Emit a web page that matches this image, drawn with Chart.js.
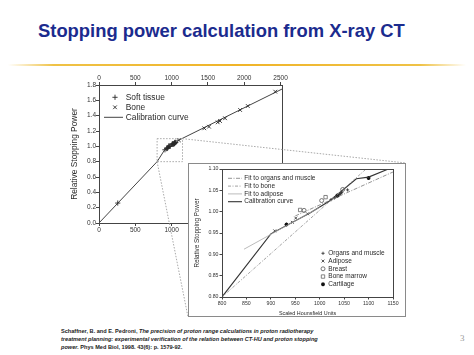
<!DOCTYPE html>
<html><head><meta charset="utf-8">
<script src="https://cdn.jsdelivr.net/npm/chart.js@4.4.1/dist/chart.umd.min.js"></script>
<style>
html,body{margin:0;padding:0;background:#fff;}
#page{position:relative;width:474px;height:355px;overflow:hidden;font-family:"Liberation Sans",Arial,sans-serif;background:#fff;}
#title{position:absolute;left:38px;top:21px;font-weight:bold;font-size:18.4px;line-height:20px;color:#1b2b8e;white-space:nowrap;}
#rule{position:absolute;left:8px;top:64px;width:458px;height:2px;background:linear-gradient(to right,rgba(240,190,60,0),#efc246 10%,#f0b428 50%,#efc246 90%,rgba(240,190,60,0));}
#mainBox{position:absolute;left:0;top:60px;width:474px;height:265px;}
#insetBox{position:absolute;left:188px;top:163px;width:218px;height:154px;background:#fff;}
#cite{position:absolute;left:61px;top:326.5px;font-size:5.6px;line-height:8px;font-weight:bold;color:#222;white-space:nowrap;}
#num{position:absolute;left:460px;top:333px;font-family:"Liberation Serif",serif;font-size:9px;color:#999;}
</style></head>
<body>
<div id="page">
  <div id="title">Stopping power calculation from X-ray CT</div>
  <div id="rule"></div>
  <div id="mainBox"><canvas id="main" width="474" height="265"></canvas></div>
  <div id="insetBox"><canvas id="inset" width="218" height="154"></canvas></div>
  <div id="cite">Schaffner, B. and E. Pedroni, <i>The precision of proton range calculations in proton radiotherapy</i><br><i>treatment planning: experimental verification of the relation between CT-HU and proton stopping</i><br><i>power.</i> Phys Med Biol, 1998. 43(6): p. 1579-92.</div>
  <div id="num">3</div>
</div>
<script>
// ---------- data ----------
const mainXTicks = [0, 500, 1000, 1500, 2000, 2500];
const mainYTicks = [0.0, 0.2, 0.4, 0.6, 0.8, 1.0, 1.2, 1.4, 1.6, 1.8];
const insetXTicks = [800, 850, 900, 950, 1000, 1050, 1100, 1150];
const insetYTicks = [0.80, 0.85, 0.90, 0.95, 1.00, 1.05, 1.10];
const insetXRange = [800, 1150];
const insetYRange = [0.80, 1.10];

const softX = [258, 908, 932, 944, 951, 960, 968, 980, 1004, 1012, 1023, 1030, 1033, 1036, 1039, 1042, 1045, 1047, 1057];
const softY = [0.26, 0.955, 0.970, 0.975, 0.985, 1.004, 1.003, 0.999, 1.026, 1.034, 1.028, 1.032, 1.035, 1.037, 1.040, 1.042, 1.045, 1.052, 1.051];
const boneX = [1100, 1450, 1515, 1635, 1667, 1736, 1943, 2049, 2427];
const boneY = [1.079, 1.235, 1.256, 1.313, 1.330, 1.366, 1.474, 1.526, 1.713];
const calibX = [0, 800, 900, 980, 1020, 1075, 1100, 2520];
const calibY = [0.0, 0.80, 0.948, 0.997, 1.025, 1.077, 1.081, 1.747];

const orgFitX = [950, 1150];
const orgFitY = [0.990, 1.093];
const boneFitX = [800, 1095];
const boneFitY = [0.800, 1.100];
const adipFitX = [845, 1000];
const adipFitY = [0.912, 1.010];

const organsX = [1023, 1030, 1033, 1035, 1037, 1039, 1041, 1043, 1045, 1057];
const organsY = [1.028, 1.032, 1.035, 1.037, 1.036, 1.040, 1.041, 1.043, 1.045, 1.051];
const adiposeX = [908, 944, 951, 975];
const adiposeY = [0.955, 0.975, 0.985, 0.995];
const breastX = [968, 1004, 1047];
const breastY = [1.003, 1.026, 1.052];
const marrowX = [960, 1012];
const marrowY = [1.004, 1.034];
const cartX = [932, 1036, 1100];
const cartY = [0.970, 1.038, 1.079];

// ---------- helpers ----------
const INK = '#2a2a2a';
const FONT = "'Liberation Sans', Arial, sans-serif";
Chart.defaults.font.family = FONT;
Chart.defaults.color = '#333';

function pts(xs, ys) { return xs.map((x, i) => ({x: x, y: ys[i]})); }
function fixedTicks(values) { return s => { s.ticks = values.map(v => ({value: v})); }; }
function fixW(w) { return s => { s.width = w; }; }
function fixH(h) { return s => { s.height = h; }; }

function drawMark(ctx, style, x, y, r) {
  if (Chart.helpers && Chart.helpers.drawPoint) {
    Chart.helpers.drawPoint(ctx, {pointStyle: style, radius: r, rotation: 0, borderWidth: ctx.lineWidth}, x, y);
    return;
  }
  ctx.beginPath();
  const d = r * Math.SQRT1_2;
  if (style === 'cross' || style === 'star') { ctx.moveTo(x - r, y); ctx.lineTo(x + r, y); ctx.moveTo(x, y - r); ctx.lineTo(x, y + r); }
  if (style === 'crossRot' || style === 'star') { ctx.moveTo(x - d, y - d); ctx.lineTo(x + d, y + d); ctx.moveTo(x - d, y + d); ctx.lineTo(x + d, y - d); }
  if (style === 'circle') ctx.arc(x, y, r, 0, Math.PI * 2);
  if (style === 'rect') ctx.rect(x - d, y - d, 2 * d, 2 * d);
  ctx.stroke();
}

function insideLegend(groups) {
  return {
    id: 'insideLegend',
    afterDraw(chart) {
      const ctx = chart.ctx, ca = chart.chartArea;
      ctx.save();
      groups.forEach(g => {
        g.items.forEach((di, k) => {
          const ds = chart.data.datasets[di];
          const yy = ca.top + g.y + k * g.row;
          ctx.save();
          ctx.strokeStyle = ds.borderColor;
          ctx.fillStyle = ds.backgroundColor || 'rgba(0,0,0,0)';
          ctx.lineWidth = ds.borderWidth || 1;
          if (ds.showLine) {
            ctx.setLineDash(ds.borderDash || []);
            ctx.beginPath();
            ctx.moveTo(ca.left + g.line[0], yy);
            ctx.lineTo(ca.left + g.line[1], yy);
            ctx.stroke();
          } else {
            drawMark(ctx, ds.pointStyle, ca.left + g.mark, yy, ds.pointRadius);
          }
          ctx.restore();
          ctx.font = g.font;
          ctx.textBaseline = 'middle';
          ctx.textAlign = 'left';
          ctx.fillStyle = INK;
          ctx.fillText(ds.label, ca.left + g.text, yy);
        });
      });
      ctx.restore();
    }
  };
}

const areaFrame = {
  id: 'areaFrame',
  afterDatasetsDraw(chart) {
    const ctx = chart.ctx, ca = chart.chartArea;
    ctx.save();
    ctx.strokeStyle = '#444';
    ctx.lineWidth = 1;
    ctx.strokeRect(Math.round(ca.left) + 0.5, Math.round(ca.top) + 0.5, Math.round(ca.right - ca.left), Math.round(ca.bottom - ca.top));
    ctx.restore();
  }
};

const zoomLinks = {
  id: 'zoomLinks',
  afterDatasetsDraw(chart) {
    const ctx = chart.ctx, sx = chart.scales.x, sy = chart.scales.y;
    const l = sx.getPixelForValue(insetXRange[0]), r = sx.getPixelForValue(insetXRange[1]);
    const t = sy.getPixelForValue(insetYRange[1]), b = sy.getPixelForValue(insetYRange[0]);
    const cv = chart.canvas.getBoundingClientRect();
    const ib = document.getElementById('insetBox').getBoundingClientRect();
    ctx.save();
    ctx.strokeStyle = '#a8a8a8';
    ctx.lineWidth = 1;
    ctx.setLineDash([1.5, 1.5]);
    ctx.strokeRect(l, t, r - l, b - t);
    ctx.beginPath();
    ctx.moveTo(r, t); ctx.lineTo(ib.right - cv.left, ib.top - cv.top);
    ctx.moveTo(l, b); ctx.lineTo(ib.left - cv.left, ib.bottom - cv.top);
    ctx.stroke();
    ctx.restore();
  }
};

const insetBorder = {
  id: 'insetBorder',
  beforeDraw(chart) {
    const ctx = chart.ctx;
    ctx.save();
    ctx.fillStyle = '#fff';
    ctx.fillRect(0, 0, chart.width, chart.height);
    ctx.strokeStyle = '#8a8a8a';
    ctx.lineWidth = 1;
    ctx.strokeRect(0.5, 0.5, chart.width - 1, chart.height - 1);
    ctx.restore();
  }
};

function axisGrid(len) {
  return {drawOnChartArea: false, drawTicks: true, tickLength: len, color: '#444', lineWidth: 1};
}

// ---------- main chart ----------
const mainTickFont = {size: 6.5};
new Chart(document.getElementById('main'), {
  type: 'scatter',
  data: {
    datasets: [
      {label: 'Soft tissue', data: pts(softX, softY), pointStyle: 'cross', pointRadius: 2.6, borderColor: INK, backgroundColor: INK, borderWidth: 0.9},
      {label: 'Bone', data: pts(boneX, boneY), pointStyle: 'crossRot', pointRadius: 2.6, borderColor: INK, backgroundColor: INK, borderWidth: 0.9},
      {label: 'Calibration curve', data: pts(calibX, calibY), showLine: true, pointRadius: 0, borderColor: '#444', borderWidth: 1}
    ]
  },
  options: {
    responsive: false, animation: false, events: [],
    layout: {padding: {left: 0, right: 192, top: 0, bottom: 82}},
    plugins: {legend: {display: false}, tooltip: {enabled: false}},
    scales: {
      x: {type: 'linear', position: 'bottom', min: 0, max: 2520,
          afterBuildTicks: fixedTicks(mainXTicks), afterFit: fixH(20),
          ticks: {font: mainTickFont, padding: 0, autoSkip: false, maxRotation: 0, callback: v => String(v)},
          grid: axisGrid(3), border: {color: '#444'}},
      x2: {type: 'linear', position: 'top', min: 0, max: 2520,
          afterBuildTicks: fixedTicks(mainXTicks), afterFit: fixH(25),
          ticks: {font: mainTickFont, padding: 0, autoSkip: false, maxRotation: 0, callback: v => String(v)},
          grid: axisGrid(3), border: {color: '#444'}},
      y: {type: 'linear', position: 'left', min: 0, max: 1.8,
          afterBuildTicks: fixedTicks(mainYTicks), afterFit: fixW(99),
          ticks: {font: mainTickFont, padding: 0, autoSkip: false, callback: v => Number(v).toFixed(1)},
          grid: axisGrid(3), border: {color: '#444'},
          title: {display: true, text: 'Relative Stopping Power', font: {size: 8.4}, color: INK, padding: {top: 70, bottom: 0}}}
    }
  },
  plugins: [areaFrame, zoomLinks, insideLegend([
    {items: [0, 1, 2], y: 12.3, row: 10, mark: 16, line: [5, 24], text: 26.7, font: '8.4px ' + FONT}
  ])]
});

// ---------- inset chart ----------
const insetTickFont = {size: 5.2};
new Chart(document.getElementById('inset'), {
  type: 'scatter',
  data: {
    datasets: [
      {label: 'Fit to organs and muscle', data: pts(orgFitX, orgFitY), showLine: true, pointRadius: 0, borderColor: '#777', borderWidth: 0.8, borderDash: [4, 1.5, 1, 1.5]},
      {label: 'Fit to bone', data: pts(boneFitX, boneFitY), showLine: true, pointRadius: 0, borderColor: '#8a8a8a', borderWidth: 0.8, borderDash: [3, 1.5, 1, 1.5]},
      {label: 'Fit to adipose', data: pts(adipFitX, adipFitY), showLine: true, pointRadius: 0, borderColor: '#aaa', borderWidth: 0.8},
      {label: 'Calibration curve', data: pts(calibX, calibY), showLine: true, pointRadius: 0, borderColor: '#333', borderWidth: 1.1},
      {label: 'Organs and muscle', data: pts(organsX, organsY), pointStyle: 'cross', pointRadius: 1.6, borderColor: INK, backgroundColor: INK, borderWidth: 0.8},
      {label: 'Adipose', data: pts(adiposeX, adiposeY), pointStyle: 'crossRot', pointRadius: 2, borderColor: INK, backgroundColor: INK, borderWidth: 0.8},
      {label: 'Breast', data: pts(breastX, breastY), pointStyle: 'circle', pointRadius: 2, borderColor: '#555', backgroundColor: 'rgba(255,255,255,0)', borderWidth: 0.8},
      {label: 'Bone marrow', data: pts(marrowX, marrowY), pointStyle: 'rect', pointRadius: 2.4, borderColor: '#666', backgroundColor: 'rgba(255,255,255,0)', borderWidth: 0.8},
      {label: 'Cartilage', data: pts(cartX, cartY), pointStyle: 'star', pointRadius: 2, borderColor: '#111', backgroundColor: '#111', borderWidth: 1.1}
    ]
  },
  options: {
    responsive: false, animation: false, events: [],
    layout: {padding: {left: 0, right: 13, top: 6, bottom: 0}},
    plugins: {legend: {display: false}, tooltip: {enabled: false}},
    scales: {
      x: {type: 'linear', position: 'bottom', min: insetXRange[0], max: insetXRange[1],
          afterBuildTicks: fixedTicks(insetXTicks), afterFit: fixH(20),
          ticks: {font: insetTickFont, padding: 1, autoSkip: false, maxRotation: 0, callback: v => String(v)},
          grid: axisGrid(2.5), border: {color: '#444'},
          title: {display: true, text: 'Scaled Hounsfield Units', font: {size: 5.4}, color: INK, padding: {top: 0, bottom: 0.3}}},
      y: {type: 'linear', position: 'left', min: insetYRange[0], max: insetYRange[1],
          afterBuildTicks: fixedTicks(insetYTicks), afterFit: fixW(34),
          ticks: {font: insetTickFont, padding: 1, autoSkip: false, callback: v => Number(v).toFixed(2)},
          grid: axisGrid(2.5), border: {color: '#444'},
          title: {display: true, text: 'Relative Stopping Power', font: {size: 6.3}, color: INK, padding: {top: 5.2, bottom: 0}}}
    }
  },
  plugins: [insetBorder, areaFrame, insideLegend([
    {items: [0, 1, 2, 3], y: 9.3, row: 7.8, line: [6, 20], text: 22.3, font: '6.5px ' + FONT},
    {items: [4, 5, 6, 7, 8], y: 84.3, row: 7.75, mark: 101, text: 106.3, font: '6.5px ' + FONT}
  ])]
});
</script>
</body></html>
